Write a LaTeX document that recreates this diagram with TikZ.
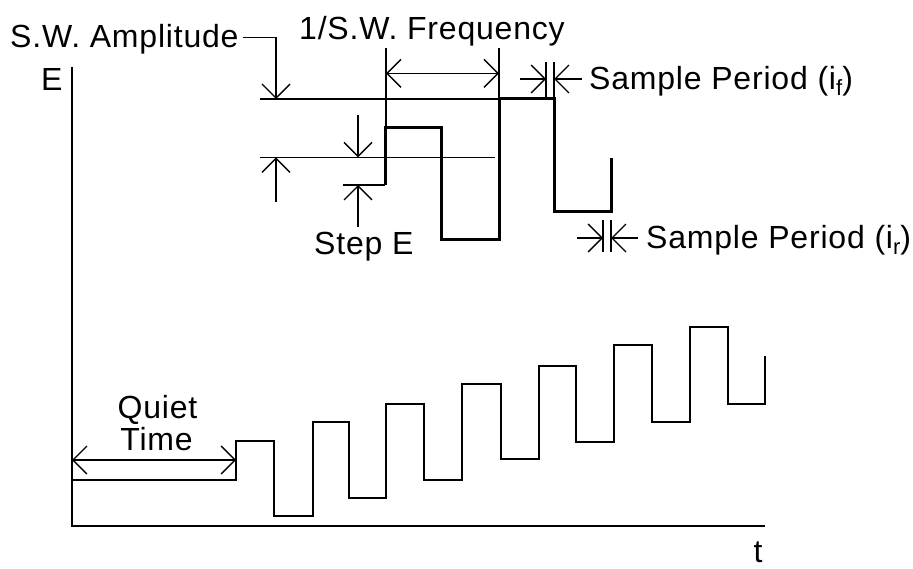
\documentclass[tikz,border=0pt]{standalone}
\usepackage{fontspec}
\setmainfont{Liberation Sans}[LetterSpace=2.5]
\usetikzlibrary{arrows.meta}
\newcommand{\mysub}[1]{\raisebox{-6pt}{\fontsize{22}{22}\selectfont #1}}
\begin{document}
\begin{tikzpicture}[x=1pt,y=-1pt,
  lbl/.style={inner sep=0pt, anchor=base west, font=\fontsize{32}{32}\selectfont},
  refline/.style={line width=1.4pt},
  axisline/.style={line width=2pt},
  wave/.style={line width=2pt, line join=miter},
  boldwave/.style={line width=3pt, line join=miter},
  dimarrow/.style={line width=1.4pt, -{Straight Barb[length=14pt,width=28pt]}},
  dimboth/.style={line width=1.4pt, {Straight Barb[length=14pt,width=28pt]}-{Straight Barb[length=14pt,width=28pt]}}
]
\useasboundingbox (0,0) rectangle (913,569);

% labels
\node[lbl] (amp) at (10,47.5) {S.W. Amplitude};
\node[lbl] (elbl) at (41,90.7) {E};
\node[lbl] (freq) at (299,40) {1/S.W. Frequency};
\node[lbl] (sf) at (589,90) {Sample Period (i\mysub{f})};
\node[lbl] (sr) at (646,248.3) {Sample Period (i\mysub{r})};
\node[lbl] (step) at (314,255) {Step E};
\node[lbl, anchor=base] (quiet1) at (157.5,418) {Quiet};
\node[lbl, anchor=base] (quiet2) at (156.5,450) {Time};
\node[lbl, anchor=base] (tlbl) at (758,562) {t};

% axes
\coordinate (ytop) at (72,67);
\coordinate (orig) at (72,526);
\coordinate (xend) at (765,526);
\draw[axisline] (ytop) -- (orig) -- (xend);

% lower waveform
\draw[wave] (72,480) -- (236,480) -- (236,441) -- (274,441) -- (274,516)
  -- (312.7,516) -- (312.7,421.7) -- (349,421.7) -- (349,497.7)
  -- (386,497.7) -- (386,404) -- (424,404) -- (424,480)
  -- (462,480) -- (462,384) -- (500.7,384) -- (500.7,459)
  -- (539,459) -- (539,365.7) -- (576,365.7) -- (576,441.7)
  -- (614,441.7) -- (614,345) -- (652,345) -- (652,422)
  -- (690,422) -- (690,327) -- (727.7,327) -- (727.7,404)
  -- (765,404) -- (765,356);

% quiet time
\coordinate (qa) at (72,460);
\coordinate (qb) at (236,460);
\draw[dimboth] (qa) -- (qb);

% upper detail: reference lines
\draw[refline] (260,99) -- (499,99);
\draw[refline] (260,157.3) -- (495,157.3);
\draw[refline] (343,185) -- (385,185);
\draw[boldwave] (385,185) -- (385,128) -- (441,128) -- (441,240) -- (499,240)
  -- (499,99) -- (554,99) -- (554,212) -- (611,212) -- (611,158);

% amplitude
\coordinate (ampA) at (243,37.7);
\coordinate (ampB) at (276,99);
\draw[dimarrow] (ampA) -| (ampB);
\coordinate (amplo1) at (276,202);
\coordinate (amplo2) at (276,157.3);
\draw[dimarrow] (amplo1) -- (amplo2);

% step E
\coordinate (st1) at (358,115);
\coordinate (st2) at (358,157.3);
\coordinate (st3) at (358,227);
\coordinate (st4) at (358,185);
\draw[dimarrow] (st1) -- (st2);
\draw[dimarrow] (st3) -- (st4);

% 1/SW frequency
\draw[refline] (386,48) -- (386,128);
\draw[refline] (499,48) -- (499,99);
\coordinate (fa) at (386,73.3);
\coordinate (fb) at (499,73.3);
\draw[dimboth] (fa) -- (fb);

% sample period if
\draw[refline] (546,62) -- (546,99);
\draw[refline] (554,62) -- (554,99);
\coordinate (sfa) at (520,79);
\coordinate (sfb) at (546,79);
\coordinate (sfc) at (582,79);
\coordinate (sfd) at (554,79);
\draw[dimarrow] (sfa) -- (sfb);
\draw[dimarrow] (sfc) -- (sfd);

% sample period ir
\draw[refline] (603,220) -- (603,252);
\draw[refline] (611,220) -- (611,252);
\coordinate (sra) at (577,238);
\coordinate (srb) at (603,238);
\coordinate (src) at (638,238);
\coordinate (srd) at (611,238);
\draw[dimarrow] (sra) -- (srb);
\draw[dimarrow] (src) -- (srd);
\end{tikzpicture}
\end{document}
